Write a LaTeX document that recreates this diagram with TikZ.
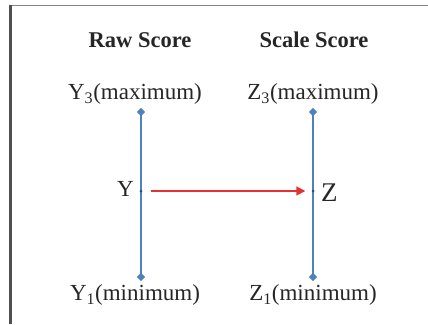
\documentclass[tikz,border=0pt]{standalone}
\usepackage{fontspec}
\setmainfont{Liberation Serif}
\usetikzlibrary{shapes.geometric,arrows.meta}
\definecolor{axisblue}{RGB}{79,129,189}
\definecolor{arrowred}{RGB}{228,50,50}
\definecolor{framegray}{RGB}{80,80,80}
\begin{document}
\begin{tikzpicture}[x=1pt,y=-1pt,
  title/.style={font=\fontsize{22.5}{26}\selectfont\bfseries, text=black!85, inner sep=0pt},
  lbl/.style={font=\fontsize{23}{26}\selectfont, text=black!85, inner sep=0pt},
  endpt/.style={diamond, fill=axisblue, inner sep=0pt, minimum size=8.5pt},
  midpt/.style={circle, fill=axisblue!60!black, inner sep=0pt, minimum size=3pt},
  axis/.style={draw=axisblue, line width=1.2pt},
  maparrow/.style={draw=arrowred, line width=1.6pt, -{Triangle[length=9pt,width=9pt]}}
]
\useasboundingbox (0,0) rectangle (428,324);
\fill[white] (0,0) rectangle (428,324);
% frame
\draw[framegray!70, line width=1.8pt] (10.5,5.5) -- (428,5.5);
\draw[framegray, line width=2.2pt] (10.5,324) -- (10.5,4.6);
% titles
\node[title] (rawt) at (140,40) {Raw Score};
\node[title] (scalet) at (314,40) {Scale Score};
% axis end points
\node[endpt] (ytop) at (141,112) {};
\node[endpt] (ybot) at (141,277) {};
\node[endpt] (ztop) at (313,112) {};
\node[endpt] (zbot) at (313,277) {};
\draw[axis] (ytop.center) -- (ybot.center);
\draw[axis] (ztop.center) -- (zbot.center);
\node[midpt] (ymid) at (141,191) {};
\node[midpt] (zmid) at (313,191) {};
% labels
\node[lbl] (ymax) at (135,94) {Y\textsubscript{3}(maximum)};
\node[lbl] (zmax) at (313,94) {Z\textsubscript{3}(maximum)};
\node[lbl] (ymin) at (135,295) {Y\textsubscript{1}(minimum)};
\node[lbl] (zmin) at (313,295) {Z\textsubscript{1}(minimum)};
\node[lbl, anchor=east] (ylab) at (134,189) {Y};
\node[lbl, anchor=west, font=\fontsize{27}{29}\selectfont] (zlab) at (321,193) {Z};
% mapping arrow
\draw[maparrow, shorten <=8pt, shorten >=6pt] (ymid) -- (zmid);
\end{tikzpicture}
\end{document}
